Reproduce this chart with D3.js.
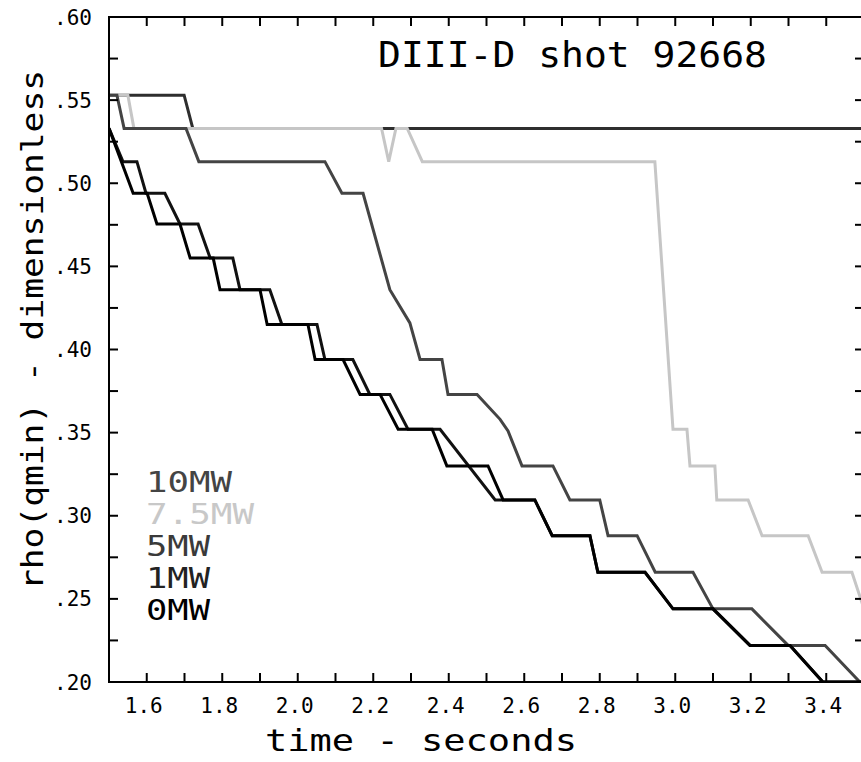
<!DOCTYPE html>
<html>
<head>
<meta charset="utf-8">
<script src="https://cdn.jsdelivr.net/npm/d3@7"></script>
<style>
  html, body { margin: 0; padding: 0; background: #fff; }
  svg { display: block; }
  text { font-family: "DejaVu Sans Mono", "Liberation Mono", monospace; }
</style>
</head>
<body>
<svg id="chart" width="861" height="762"></svg>
<script>
// ---- data ----
const seriesNames = ["10MW", "7.5MW", "5MW", "1MW", "0MW"];
const seriesColors = ["#2e2e2e", "#c6c6c6", "#444444", "#111111", "#000000"];
const legendColors = ["#444444", "#c8c8c8", "#3a3a3a", "#222222", "#000000"];

// [time (s), rho(qmin)]
const mw10 = [[1.5,.553],[1.699,.553],[1.722,.533],[3.5,.533]];
const mw75 = [[1.5,.553],[1.55,.553],[1.566,.533],[2.222,.533],[2.241,.513],[2.26,.533],
  [2.29,.533],[2.33,.513],[2.946,.513],[2.994,.352],[3.031,.352],[3.039,.330],[3.105,.330],
  [3.11,.3095],[3.193,.3095],[3.23,.288],[3.352,.288],[3.389,.266],[3.468,.266],[3.5,.244]];
const mw5 = [[1.5,.553],[1.521,.553],[1.54,.533],[1.704,.533],[1.738,.513],[2.072,.513],
  [2.117,.494],[2.173,.494],[2.244,.436],[2.297,.416],[2.324,.394],[2.382,.394],[2.398,.373],
  [2.475,.373],[2.536,.358],[2.557,.351],[2.594,.330],[2.676,.330],[2.721,.3095],[2.80,.3095],
  [2.822,.288],[2.899,.288],[2.947,.266],[3.047,.266],[3.10,.244],[3.203,.244],[3.299,.222],
  [3.397,.222],[3.489,.2],[3.5,.2]];
const mw1 = [[1.5,.533],[1.537,.513],[1.574,.513],[1.598,.494],[1.648,.494],[1.688,.4755],
  [1.736,.4755],[1.768,.455],[1.828,.455],[1.847,.436],[1.926,.436],[1.958,.415],[2.051,.415],
  [2.072,.394],[2.146,.394],[2.191,.373],[2.244,.373],[2.292,.352],[2.377,.352],[2.523,.3095],
  [2.628,.3095],[2.674,.288],[2.774,.288],[2.795,.266],[2.92,.266],[2.994,.244],[3.1,.244],
  [3.198,.222],[3.304,.222],[3.391,.2],[3.5,.2]];
const mw0 = [[1.5,.533],[1.564,.494],[1.601,.494],[1.627,.4755],[1.688,.4755],[1.715,.455],
  [1.776,.455],[1.794,.436],[1.9,.436],[1.919,.415],[2.027,.415],[2.046,.394],[2.12,.394],
  [2.165,.373],[2.218,.373],[2.266,.352],[2.356,.352],[2.395,.330],[2.504,.330],[2.544,.3095],
  [2.628,.3095],[2.674,.288],[2.774,.288],[2.795,.266],[2.92,.266],[2.994,.244],[3.1,.244],
  [3.198,.222],[3.304,.222],[3.391,.2],[3.5,.2]];
const seriesData = [mw10, mw75, mw5, mw1, mw0];

const xTickValues = [1.6, 1.8, 2.0, 2.2, 2.4, 2.6, 2.8, 3.0, 3.2, 3.4];
const xMinorTicks = d3.range(1.6, 3.45, 0.1);
const yTickValues = [.20, .25, .30, .35, .40, .45, .50, .55, .60];
const yMinorTicks = d3.range(.225, .6, 0.025);
const titleText = "DIII-D shot 92668";
const xLabel = "time - seconds";
const yLabel = "rho(qmin) - dimensionless";

// ---- layout ----
const svg = d3.select("#chart");
const L = 109, R = 864, T = 17, B = 682;
const x = d3.scaleLinear().domain([1.5, 3.5]).range([L, R]);
const y = d3.scaleLinear().domain([0.2, 0.6]).range([B, T]);

svg.append("defs").append("clipPath").attr("id", "plot")
  .append("rect").attr("x", L).attr("y", T).attr("width", R - L).attr("height", B - T);

// series
const line = d3.line().x(d => x(d[0])).y(d => y(d[1]));
const g = svg.append("g").attr("clip-path", "url(#plot)");
seriesData.forEach((s, i) => {
  g.append("path").datum(s).attr("d", line)
    .attr("fill", "none").attr("stroke", seriesColors[i])
    .attr("stroke-width", 3).attr("stroke-linejoin", "miter");
});

// axes (ticks inward)
const tick = 9;
const axG = svg.append("g").attr("stroke", "#000").attr("stroke-width", 2);
function addX(vals, yPos, dir) {
  vals.forEach(v => axG.append("line").attr("x1", x(v)).attr("x2", x(v))
    .attr("y1", yPos).attr("y2", yPos + dir * tick));
}
function addY(vals, xPos, dir) {
  vals.forEach(v => axG.append("line").attr("y1", y(v)).attr("y2", y(v))
    .attr("x1", xPos).attr("x2", xPos + dir * tick));
}
addX(xMinorTicks, B, -1);
addX(xMinorTicks, T, 1);
addY(yMinorTicks, L, 1);
addY(yMinorTicks, R, -1);
svg.append("rect").attr("x", L).attr("y", T).attr("width", R - L).attr("height", B - T)
  .attr("fill", "none").attr("stroke", "#000").attr("stroke-width", 2);

// tick labels
const fmtY = v => d3.format(".2f")(v).replace(/^0/, "");
svg.append("g").selectAll("text").data(yTickValues).join("text")
  .attr("x", 92).attr("y", d => y(d) + 7.5).attr("text-anchor", "end")
  .attr("font-size", 21).attr("fill", "#000").text(fmtY);
svg.append("g").selectAll("text").data(xTickValues).join("text")
  .attr("x", d => x(d) - 3).attr("y", 713).attr("text-anchor", "middle")
  .attr("font-size", 21).attr("fill", "#000").text(d => d3.format(".1f")(d));

// axis titles
svg.append("text").attr("x", 421).attr("y", 751).attr("text-anchor", "middle")
  .attr("font-size", 31).attr("textLength", 312).attr("lengthAdjust", "spacingAndGlyphs")
  .attr("fill", "#000").text(xLabel);
svg.append("text").attr("transform", "translate(43,330) rotate(-90)")
  .attr("text-anchor", "middle").attr("font-size", 31)
  .attr("textLength", 520).attr("lengthAdjust", "spacingAndGlyphs")
  .attr("fill", "#000").text(yLabel);

// title
svg.append("text").attr("x", 378).attr("y", 67).attr("font-size", 35)
  .attr("textLength", 389).attr("lengthAdjust", "spacingAndGlyphs")
  .attr("fill", "#000").text(titleText);

// legend
const legendY = [492, 524, 556, 588, 620];
seriesNames.forEach((n, i) => {
  svg.append("text").attr("x", 146).attr("y", legendY[i])
    .attr("font-size", 28).attr("fill", legendColors[i])
    .attr("textLength", n.length * 22 - 2).attr("lengthAdjust", "spacingAndGlyphs")
    .text(n);
});
</script>
</body>
</html>
